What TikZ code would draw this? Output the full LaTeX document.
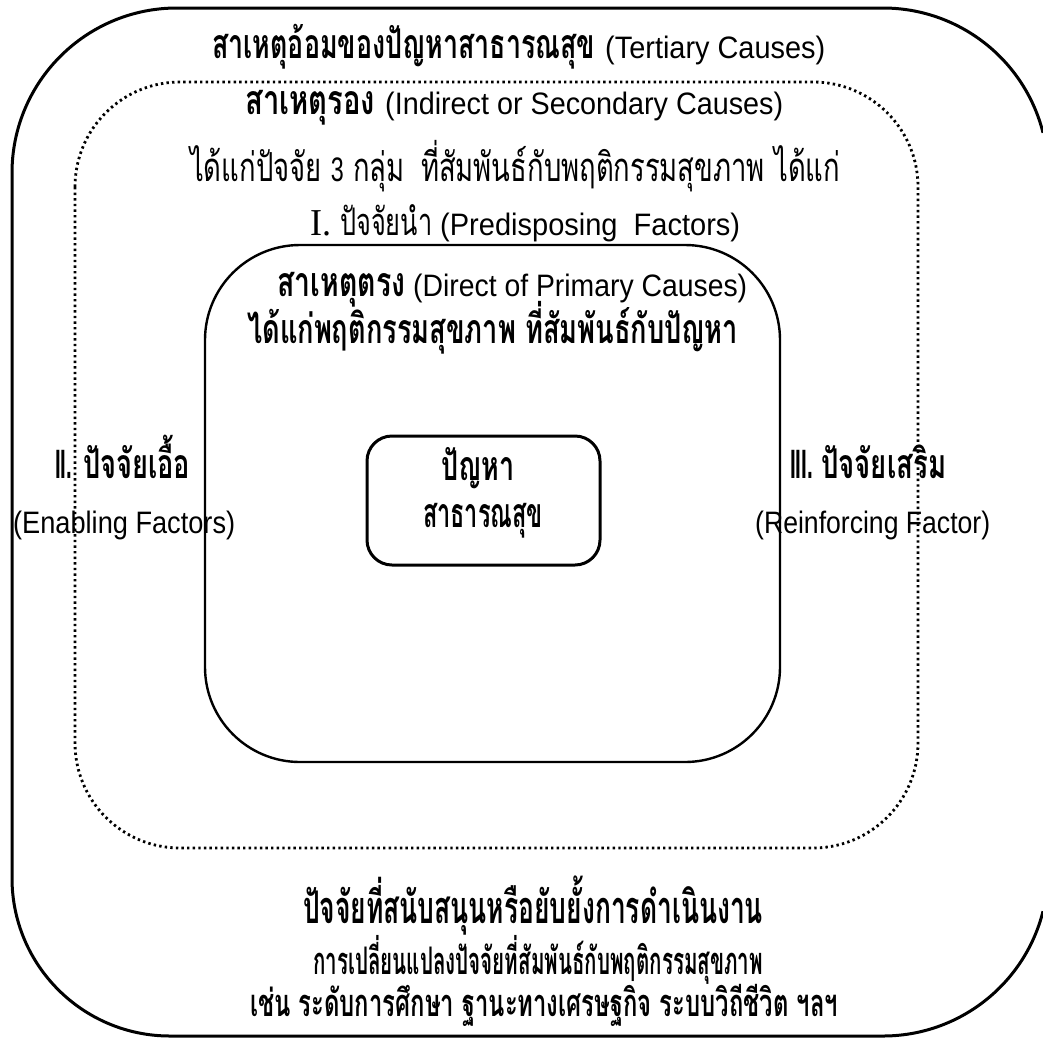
\documentclass[tikz,border=0pt]{standalone}
\usepackage{fontspec}
\usepackage{graphicx}
\newfontfamily\thf[Script=Thai]{Loma}
\newfontfamily\latf{Liberation Sans}
\newfontfamily\serf{Liberation Serif}
% squeeze a piece of text to a given width, keeping its height
\newcommand\fitw[2]{\resizebox{#1}{\height}{#2}}
\newcommand\eng[2]{\fitw{#1}{\latf\mdseries\fontsize{31pt}{34pt}\selectfont #2}}

\begin{document}
\begin{tikzpicture}[x=1pt,y=-1pt,
  txt/.style={inner sep=0pt, anchor=base west, font=\thf\bfseries\fontsize{41pt}{44pt}\selectfont},
  frame/.style={draw, line width=2.6pt},
  dotframe/.style={draw, line width=2.8pt, dash pattern=on 2.4pt off 3.2pt}]
\useasboundingbox (0,0) rectangle (1043,1039);

% outer frame: its right side runs off the page between the two right corners
\begin{scope}
  \clip (0,0) rectangle (1043,1039);
  \draw[frame, line width=3pt]
    (883,173) ++(14.1:165pt) arc[start angle=14.1, end angle=90, radius=165pt]
    -- (177,8) arc[start angle=90, end angle=180, radius=165pt]
    -- (12,878) arc[start angle=180, end angle=270, radius=158pt]
    -- (883,1036) arc[start angle=270, end angle=345.9, radius=165pt];
\end{scope}
% dotted middle frame
\draw[dotframe, rounded corners=105pt] (75,82) rectangle (918,848);
% inner frame
\draw[frame, line width=2.4pt, rounded corners=95pt] (205,245) rectangle (780,762);
% central box
\draw[frame, line width=3pt, rounded corners=25pt] (367,436) rectangle (600,565);

% outer level
\node[txt] (tert) at (212,58) {\fitw{383pt}{สาเหตุอ้อมของปัญหาสาธารณสุข}\hspace{10pt}\eng{220pt}{(Tertiary Causes)}};
% middle level
\node[txt] (sec) at (245,114) {\fitw{130pt}{สาเหตุรอง}\hspace{10pt}\eng{398pt}{(Indirect or Secondary Causes)}};
\node[txt, font=\thf\fontsize{40pt}{44pt}\selectfont] (groups) at (190,181)
  {\fitw{650pt}{ได้แก่ปัจจัย {\latf\fontsize{34pt}{38pt}\selectfont 3} กลุ่ม\hspace{0.6em}ที่สัมพันธ์กับพฤติกรรมสุขภาพ ได้แก่}};
\node[txt, font=\thf\fontsize{38pt}{42pt}\selectfont] (pre) at (310,235)
  {\fitw{21pt}{\serf\fontsize{38pt}{42pt}\selectfont I.}\hspace{9pt}\fitw{92pt}{ปัจจัยนำ}\hspace{8pt}\eng{300pt}{(Predisposing\ \ Factors)}};
% inner level
\node[txt] (prim) at (277,296) {\fitw{128pt}{สาเหตุตรง}\hspace{8pt}\eng{334pt}{(Direct of Primary Causes)}};
\node[txt] (beh) at (247,343) {\fitw{491pt}{ได้แก่พฤติกรรมสุขภาพ ที่สัมพันธ์กับปัญหา}};
% side factors
\node[txt] (en) at (55,478) {\fitw{17pt}{\latf\bfseries II.}\hspace{11pt}\fitw{107pt}{ปัจจัยเอื้อ}};
\node[txt, font=\latf\fontsize{31pt}{34pt}\selectfont] (enE) at (13,533) {\fitw{222pt}{(Enabling Factors)}};
\node[txt] (re) at (790,478) {\fitw{23pt}{\latf\bfseries III.}\hspace{8pt}\fitw{125pt}{ปัจจัยเสริม}};
\node[txt, font=\latf\fontsize{31pt}{34pt}\selectfont] (reE) at (755,533) {\fitw{235pt}{(Reinforcing Factor)}};
% centre
\node[txt, anchor=base] (prob) at (478,480) {\fitw{73pt}{ปัญหา}};
\node[txt, anchor=base] (ph) at (483,527) {\fitw{120pt}{สาธารณสุข}};
% bottom notes
\node[txt, anchor=base, font=\thf\bfseries\fontsize{45pt}{48pt}\selectfont] (sup) at (533,923) {\fitw{460pt}{ปัจจัยที่สนับสนุนหรือยับยั้งการดำเนินงาน}};
\node[txt, anchor=base, font=\thf\bfseries\fontsize{38pt}{42pt}\selectfont] (chg) at (538,974) {\fitw{450pt}{การเปลี่ยนแปลงปัจจัยที่สัมพันธ์กับพฤติกรรมสุขภาพ}};
\node[txt, anchor=base, font=\thf\bfseries\fontsize{38pt}{42pt}\selectfont] (ex) at (544,1016) {\fitw{588pt}{เช่น ระดับการศึกษา ฐานะทางเศรษฐกิจ ระบบวิถีชีวิต ฯลฯ}};
\end{tikzpicture}
\end{document}
